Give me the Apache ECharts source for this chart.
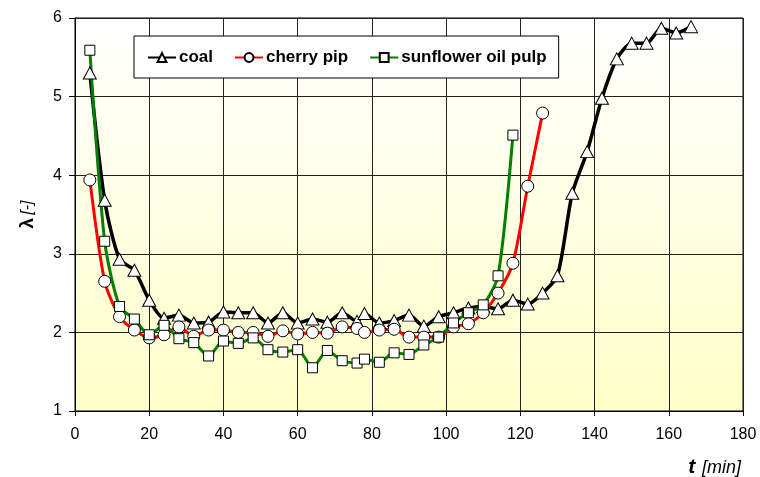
<!DOCTYPE html>
<html>
<head>
<meta charset="utf-8">
<script src="https://cdn.jsdelivr.net/npm/echarts@6/dist/echarts.min.js"></script>
<style>html,body{margin:0;padding:0;background:#fff}#c{width:760px;height:477px}</style>
</head>
<body>
<div id="c"></div>
<script>
const seriesNames = ['coal', 'cherry pip', 'sunflower oil pulp'];
const xTicks = [0, 20, 40, 60, 80, 100, 120, 140, 160, 180];
const yTicks = [1, 2, 3, 4, 5, 6];

const tCoal = [4,8,12,16,20,24,28,32,36,40,44,48,52,56,60,64,68,72,76,78,82,86,90,94,98,102,106,110,114,118,122,126,130,134,138,142,146,150,154,158,162,166];
const coal = [5.30,3.68,2.93,2.79,2.41,2.18,2.22,2.12,2.13,2.26,2.25,2.25,2.12,2.25,2.12,2.17,2.13,2.25,2.14,2.24,2.12,2.15,2.22,2.08,2.20,2.25,2.31,2.33,2.30,2.41,2.36,2.50,2.72,3.77,4.30,4.98,5.48,5.68,5.68,5.87,5.81,5.89];

const tCherry = [4,8,12,16,20,24,28,32,36,40,44,48,52,56,60,64,68,72,76,78,82,86,90,94,98,102,106,110,114,118,122,126];
const cherry = [3.94,2.65,2.20,2.03,1.93,1.97,2.07,1.95,2.03,2.03,2.00,2.00,1.95,2.02,1.98,2.00,1.99,2.07,2.05,2.00,2.03,2.04,1.94,1.94,1.94,2.07,2.11,2.25,2.50,2.88,3.86,4.79];

const tSun = [4,8,12,16,20,24,28,32,36,40,44,48,52,56,60,64,68,72,76,78,82,86,90,94,98,102,106,110,114,118];
const sunflower = [5.59,3.16,2.33,2.17,1.97,2.09,1.92,1.87,1.70,1.89,1.86,1.93,1.78,1.75,1.78,1.55,1.77,1.64,1.61,1.66,1.62,1.74,1.72,1.84,1.94,2.12,2.25,2.35,2.72,4.51];

const pair = (xs, ys) => xs.map((x, i) => [x, ys[i]]);
const FONT = 'Liberation Sans, Arial, sans-serif';

const chart = echarts.init(document.getElementById('c'), null, {renderer: 'canvas'});
const mk = (name, data, color, symbol, size, width) => ({
  name, type: 'line', data, smooth: 0.25,
  symbol, symbolSize: size, showAllSymbol: true,
  lineStyle: {color, width},
  itemStyle: {color: '#fff', borderColor: '#000', borderWidth: 1},
  emphasis: {disabled: true},
  animation: false
});

chart.setOption({
  backgroundColor: '#fff',
  animation: false,
  grid: {
    left: 75, right: 17, top: 18, bottom: 66,
    show: true, borderColor: '#000', borderWidth: 1,
    backgroundColor: {type: 'linear', x: 0, y: 0, x2: 0, y2: 1,
      colorStops: [{offset: 0, color: '#ffffff'}, {offset: 1, color: '#ffffc8'}]}
  },
  legend: {
    left: 134, top: 36,
    padding: [13, 12, 12, 13],
    itemGap: 21, itemWidth: 28, itemHeight: 11,
    backgroundColor: '#fff', borderColor: '#000', borderWidth: 1,
    textStyle: {fontFamily: FONT, fontSize: 17, fontWeight: 'bold', color: '#000', padding: [0, 0, 0, -2]},
    data: seriesNames
  },
  xAxis: {
    type: 'value', min: xTicks[0], max: xTicks[xTicks.length - 1], interval: 20,
    axisLine: {show: true, onZero: false, lineStyle: {color: '#000', width: 1}},
    axisTick: {show: true, length: 5, lineStyle: {color: '#000'}},
    axisLabel: {fontFamily: FONT, fontSize: 16, color: '#000', margin: 16},
    splitLine: {show: true, lineStyle: {color: '#222', width: 1}}
  },
  yAxis: {
    type: 'value', min: yTicks[0], max: yTicks[yTicks.length - 1], interval: 1,
    axisLine: {show: true, onZero: false, lineStyle: {color: '#000', width: 1}},
    axisTick: {show: true, length: 6, lineStyle: {color: '#000'}},
    axisLabel: {fontFamily: FONT, fontSize: 16, color: '#000', margin: 13},
    splitLine: {show: true, lineStyle: {color: '#222', width: 1}},
    name: '{b|λ} {i|[-]}', nameLocation: 'middle', nameGap: 38,
    nameTextStyle: {
      rich: {
        b: {fontFamily: FONT, fontSize: 19, fontWeight: 'bold', color: '#000'},
        i: {fontFamily: FONT, fontSize: 16, fontStyle: 'italic', color: '#000'}
      }
    }
  },
  graphic: [{
    type: 'text', right: 19, top: 457,
    style: {
      text: '{b|t}  {i|[min]}',
      rich: {
        b: {fontFamily: FONT, fontSize: 21, fontWeight: 'bold', fontStyle: 'italic', fill: '#000'},
        i: {fontFamily: FONT, fontSize: 18, fontStyle: 'italic', fill: '#000'}
      }
    }
  }],
  series: [
    mk(seriesNames[0], pair(tCoal, coal), '#000', 'triangle', [13, 12], 3.5),
    mk(seriesNames[1], pair(tCherry, cherry), '#ff0000', 'circle', 12, 3),
    mk(seriesNames[2], pair(tSun, sunflower), '#008000', 'rect', 10, 3)
  ]
});
</script>
</body>
</html>
